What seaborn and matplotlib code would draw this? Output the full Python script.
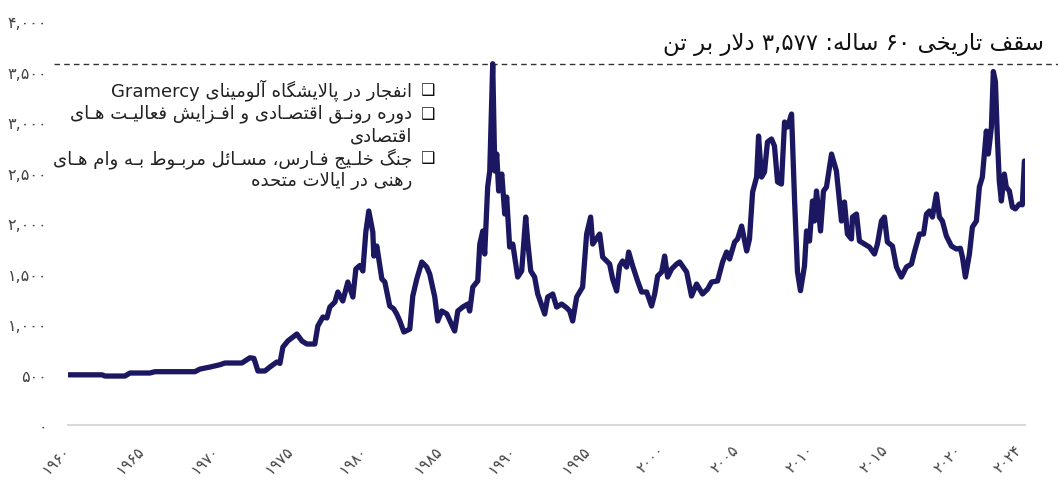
import re
import pandas as pd
import matplotlib
matplotlib.use("Agg")
import matplotlib.pyplot as plt
import seaborn as sns

# -----------------------------
# Data (USD per tonne)
# -----------------------------
years = [
    1960.00, 1962.29, 1962.49, 1963.83, 1964.17, 1965.51, 1965.85, 1968.54, 1968.88, 1969.55,
    1970.22, 1970.56, 1971.70, 1972.24, 1972.51, 1972.78, 1973.25, 1973.58, 1974.05, 1974.26,
    1974.46, 1974.79, 1975.40, 1975.74, 1976.07, 1976.61, 1976.81, 1977.15, 1977.42, 1977.62,
    1977.96, 1978.16, 1978.49, 1978.83, 1979.17, 1979.37, 1979.64, 1979.84, 1980.04, 1980.24,
    1980.51, 1980.58, 1980.78, 1981.12, 1981.32, 1981.65, 1981.92, 1982.12, 1982.33, 1982.60,
    1983.00, 1983.20, 1983.47, 1983.81, 1984.14, 1984.34, 1984.68, 1984.88, 1985.15, 1985.49,
    1985.89, 1986.02, 1986.23, 1986.56, 1986.90, 1987.03, 1987.24, 1987.57, 1987.71, 1987.91,
    1988.04, 1988.24, 1988.38, 1988.58, 1988.72, 1988.85, 1988.98, 1989.19, 1989.39, 1989.52,
    1989.72, 1989.93, 1990.26, 1990.53, 1990.80, 1990.93, 1991.14, 1991.40, 1991.61, 1992.08,
    1992.28, 1992.62, 1992.88, 1993.22, 1993.56, 1993.76, 1993.96, 1994.23, 1994.63, 1994.90,
    1995.17, 1995.31, 1995.78, 1995.98, 1996.45, 1996.65, 1996.92, 1997.12, 1997.32, 1997.59,
    1997.73, 1998.00, 1998.33, 1998.60, 1998.94, 1999.27, 1999.48, 1999.68, 1999.95, 2000.15,
    2000.35, 2000.62, 2000.96, 2001.16, 2001.63, 2001.96, 2002.30, 2002.70, 2003.04, 2003.31,
    2003.71, 2004.05, 2004.32, 2004.52, 2004.86, 2005.06, 2005.33, 2005.67, 2005.86, 2006.07,
    2006.34, 2006.47, 2006.67, 2006.87, 2007.07, 2007.34, 2007.54, 2007.75, 2008.01, 2008.22,
    2008.42, 2008.69, 2008.89, 2009.09, 2009.29, 2009.56, 2009.70, 2009.90, 2010.10, 2010.23,
    2010.37, 2010.64, 2010.84, 2011.04, 2011.38, 2011.71, 2012.05, 2012.25, 2012.45, 2012.72,
    2012.79, 2013.06, 2013.26, 2013.60, 2013.93, 2014.27, 2014.47, 2014.74, 2014.94, 2015.14,
    2015.48, 2015.75, 2016.08, 2016.42, 2016.76, 2016.96, 2017.30, 2017.57, 2017.77, 2017.97,
    2018.17, 2018.44, 2018.64, 2018.84, 2019.11, 2019.45, 2019.78, 2020.05, 2020.19, 2020.39,
    2020.66, 2020.86, 2021.13, 2021.33, 2021.53, 2021.80, 2021.93, 2022.14, 2022.27, 2022.41,
    2022.54, 2022.67, 2022.81, 2023.01, 2023.14, 2023.35, 2023.55, 2023.75, 2024.02, 2024.22,
    2024.36,
]
prices = [
    497, 497, 485, 485, 515, 515, 528, 528, 554, 574,
    597, 614, 614, 666, 660, 535, 535, 574, 624, 610,
    772, 832, 901, 832, 802, 802, 980, 1069, 1060, 1168,
    1218, 1317, 1228, 1416, 1267, 1545, 1580, 1525, 1911, 2119,
    1911, 1673, 1772, 1446, 1416, 1178, 1150, 1099, 1030, 921,
    950, 1277, 1446, 1614, 1564, 1495, 1267, 1030, 1129, 1100,
    970, 931, 1129, 1168, 1198, 1129, 1366, 1426, 1792, 1921,
    1693, 2356, 2515, 3577, 2515, 2683, 2317, 2485, 2089, 2257,
    1762, 1792, 1465, 1525, 2059, 1822, 1525, 1465, 1297, 1099,
    1267, 1297, 1168, 1198, 1160, 1129, 1030, 1267, 1366, 1891,
    2059, 1792, 1891, 1663, 1594, 1446, 1327, 1574, 1624, 1564,
    1713, 1574, 1426, 1317, 1317, 1178, 1297, 1475, 1515, 1673,
    1465, 1545, 1594, 1614, 1515, 1277, 1396, 1297, 1346, 1416,
    1426, 1614, 1713, 1644, 1812, 1842, 1970, 1723, 1842, 2307,
    2455, 2861, 2455, 2505, 2802, 2832, 2762, 2406, 2386, 3000,
    2950, 3079, 2238, 1515, 1330, 1574, 1921, 1822, 2218, 2020,
    2317, 1921, 2317, 2356, 2683, 2515, 2020, 2208, 1891, 1842,
    2059, 2089, 1822, 1792, 1762, 1693, 1792, 2020, 2059, 1812,
    1772, 1564, 1465, 1564, 1594, 1713, 1891, 1891, 2089, 2119,
    2059, 2287, 2059, 2020, 1871, 1772, 1743, 1750, 1663, 1465,
    1693, 1960, 2020, 2356, 2455, 2911, 2683, 2950, 3500, 3400,
    2851, 2416, 2218, 2485, 2356, 2317, 2158, 2140, 2188, 2180,
    2614,
]
peak_value = 3577
tick_years = [1960, 1965, 1970, 1975, 1980, 1985, 1990, 1995, 2000, 2005, 2010, 2015, 2020, 2024]
y_ticks = [0, 500, 1000, 1500, 2000, 2500, 3000, 3500, 4000]

title_text = "سقف تاریخی ۶۰ ساله: ۳,۵۷۷ دلار بر تن"
notes = [
    ("انفجار در پالایشگاه آلومینای Gramercy", True),
    ("دوره رونـق اقتصـادی و افـزایش فعالیـت هـای", True),
    ("اقتصادی", False),
    ("جنگ خلـیج فـارس، مسـائل مربـوط بـه وام هـای", True),
    ("رهنی در ایالات متحده", False),
]

LINE_COLOR = "#1c1761"
TEXT_COLOR = "#222222"
TICK_COLOR = "#444444"

# -----------------------------
# Minimal Persian shaping + RTL ordering (matplotlib has no bidi support)
# -----------------------------
DUAL = {  # isolated form code point; final/initial/medial follow consecutively
    'ئ': 0xFE89, 'ب': 0xFE8F, 'پ': 0xFB56, 'ت': 0xFE95, 'ث': 0xFE99, 'ج': 0xFE9D,
    'چ': 0xFB7A, 'ح': 0xFEA1, 'خ': 0xFEA5, 'س': 0xFEB1, 'ش': 0xFEB5, 'ص': 0xFEB9,
    'ض': 0xFEBD, 'ط': 0xFEC1, 'ظ': 0xFEC5, 'ع': 0xFEC9, 'غ': 0xFECD, 'ف': 0xFED1,
    'ق': 0xFED5, 'ک': 0xFB8E, 'گ': 0xFB92, 'ل': 0xFEDD, 'م': 0xFEE1, 'ن': 0xFEE5,
    'ه': 0xFEE9, 'ی': 0xFBFC, 'ـ': None,
}
RIGHT = {  # isolated, final
    'آ': 0xFE81, 'ا': 0xFE8D, 'د': 0xFEA9, 'ذ': 0xFEAB, 'ر': 0xFEAD, 'ز': 0xFEAF,
    'ژ': 0xFB8A, 'و': 0xFEED,
}


def shape(text):
    out = []
    i = 0
    while i < len(text):
        ch = text[i]
        prev = text[i - 1] if i > 0 else ''
        nxt = text[i + 1] if i + 1 < len(text) else ''
        join_prev = prev in DUAL and (ch in DUAL or ch in RIGHT)
        if ch == 'ل' and nxt in ('ا', 'آ'):
            base = 0xFEFB if nxt == 'ا' else 0xFEF5
            out.append(chr(base + (1 if join_prev else 0)))
            i += 2
            continue
        if ch in DUAL:
            join_next = nxt in DUAL or nxt in RIGHT
            if join_prev:
                idx = 3 if join_next else 1
            else:
                idx = 2 if join_next else 0
            out.append(ch if DUAL[ch] is None else chr(DUAL[ch] + idx))
        elif ch in RIGHT:
            out.append(chr(RIGHT[ch] + (1 if join_prev else 0)))
        else:
            out.append(ch)
        i += 1
    return ''.join(out)


LTR_RUN = re.compile(r'[A-Za-z0-9۰-۹](?:[A-Za-z0-9۰-۹,.]*[A-Za-z0-9۰-۹])?')


def rtl(text):
    shaped = shape(text)
    parts = []
    pos = 0
    for m in LTR_RUN.finditer(shaped):
        parts.append(shaped[pos:m.start()][::-1])
        parts.append(m.group())
        pos = m.end()
    parts.append(shaped[pos:][::-1])
    return ''.join(parts[::-1])


FA_DIGITS = str.maketrans("0123456789", "۰۱۲۳۴۵۶۷۸۹")

# -----------------------------
# Plot
# -----------------------------
df = pd.DataFrame({"year": years, "price": prices})

sns.set_theme(style="white")
plt.rcParams['font.family'] = ['DejaVu Sans']

fig = plt.figure(figsize=(10.58, 4.85), dpi=100)
ax = fig.add_axes([0.0643, 0.1216, 0.9045, 0.833])

sns.lineplot(data=df, x="year", y="price", color=LINE_COLOR, linewidth=3.8,
             ax=ax, solid_capstyle="round", solid_joinstyle="round")

ax.axhline(peak_value, xmin=-0.015, xmax=1.09, color="#333333", linewidth=1.0,
           linestyle=(0, (4, 3)), clip_on=False, zorder=1)

ax.set_xlim(1960, 2024.4)
ax.set_ylim(0, 4000)
ax.set_yticks(y_ticks)
ax.set_yticklabels([f"{v:,}".translate(FA_DIGITS) for v in y_ticks],
                   fontsize=11.5, color=TICK_COLOR)
ax.set_xticks(tick_years)
ax.set_xticklabels([str(y).translate(FA_DIGITS) for y in tick_years],
                   fontsize=11, color=TICK_COLOR, rotation=45,
                   ha="right", va="center", rotation_mode="anchor")
ax.tick_params(axis="both", length=0)
ax.tick_params(axis="y", pad=15)
ax.tick_params(axis="x", pad=16)
ax.set_xlabel("")
ax.set_ylabel("")

for side in ["top", "right", "left"]:
    ax.spines[side].set_visible(False)
ax.spines["bottom"].set_color("#d9d9d9")
ax.spines["bottom"].set_linewidth(1.5)

# title on the right
fig.text(1044 / 1058, 1 - 45 / 485, rtl(title_text), ha="right", va="center",
         fontsize=16.5, color="#111111")

# bullet notes
line_y = [90, 114, 136, 159, 181]
for (txt, bullet), yy in zip(notes, line_y):
    fig.text(412 / 1058, 1 - yy / 485, rtl(txt), ha="right", va="center",
             fontsize=13, color=TEXT_COLOR)
    if bullet:
        fig.text(427 / 1058, 1 - yy / 485, "❑", ha="center", va="center",
                 fontsize=11.5, color="#111111")

fig.savefig("out.png", dpi=100)
